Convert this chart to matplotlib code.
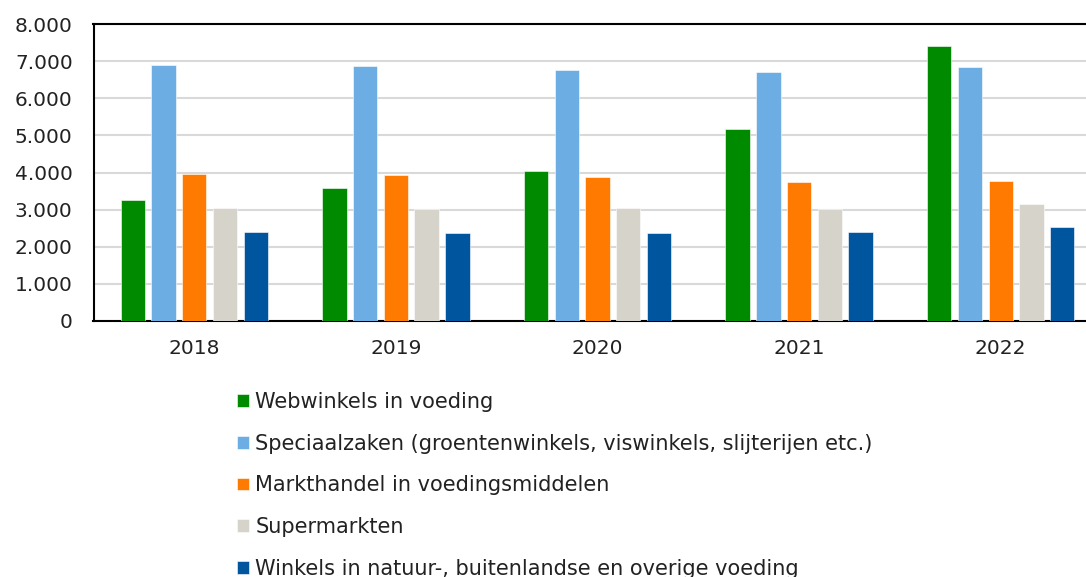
import matplotlib
matplotlib.use("Agg")
import matplotlib.pyplot as plt
import numpy as np
from matplotlib.ticker import FuncFormatter

# data
years = ["2018", "2019", "2020", "2021", "2022"]
series_names = [
    "Webwinkels in voeding",
    "Speciaalzaken (groentenwinkels, viswinkels, slijterijen etc.)",
    "Markthandel in voedingsmiddelen",
    "Supermarkten",
    "Winkels in natuur-, buitenlandse en overige voeding",
]
webwinkels = [3270, 3590, 4030, 5180, 7420]
speciaalzaken = [6900, 6860, 6770, 6700, 6850]
markthandel = [3970, 3940, 3880, 3750, 3760]
supermarkten = [3040, 3030, 3040, 3030, 3140]
overige = [2390, 2370, 2360, 2390, 2520]

colors = ["#008A00", "#6CADE3", "#FF7A00", "#D6D3CB", "#00559F"]

plt.rcParams["font.family"] = "DejaVu Sans"

fig = plt.figure(figsize=(10.86, 5.77), dpi=100)
ax = fig.add_axes([93.5 / 1086, 256 / 577, 1 - 93.5 / 1086, 297 / 577])

x = np.arange(len(years))
width = 0.121
pitch = 0.1527
all_series = [webwinkels, speciaalzaken, markthandel, supermarkten, overige]
for i, (vals, name, col) in enumerate(zip(all_series, series_names, colors)):
    ax.bar(x + (i - 2) * pitch, vals, width, color=col, label=name,
           edgecolor="white", linewidth=0.4, zorder=3)

ax.set_ylim(0, 8000)
ax.set_xlim(-0.5, 4.423)
ax.set_yticks(range(0, 8001, 1000))
ax.yaxis.set_major_formatter(FuncFormatter(lambda v, p: f"{int(v):,}".replace(",", ".")))
ax.set_xticks(x)
ax.set_xticklabels(years)
ax.grid(axis="y", color="#D9D9D9", linewidth=1.5, zorder=0)
ax.tick_params(axis="y", length=0, pad=15, labelsize=14.5, labelcolor="#222222")
ax.tick_params(axis="x", length=0, pad=13, labelsize=14.5, labelcolor="#222222")

for side in ["left", "top", "bottom"]:
    ax.spines[side].set_linewidth(1.5)
    ax.spines[side].set_color("black")
ax.spines["right"].set_visible(False)

fig.legend(loc="upper left", bbox_to_anchor=(237 / 1086, 1 - 392 / 577),
           frameon=False, fontsize=15, borderpad=0, borderaxespad=0,
           handlelength=0.56, handleheight=0.56, handletextpad=0.32,
           labelspacing=1.04, labelcolor="#222222")

fig.savefig("out.png", dpi=100)
